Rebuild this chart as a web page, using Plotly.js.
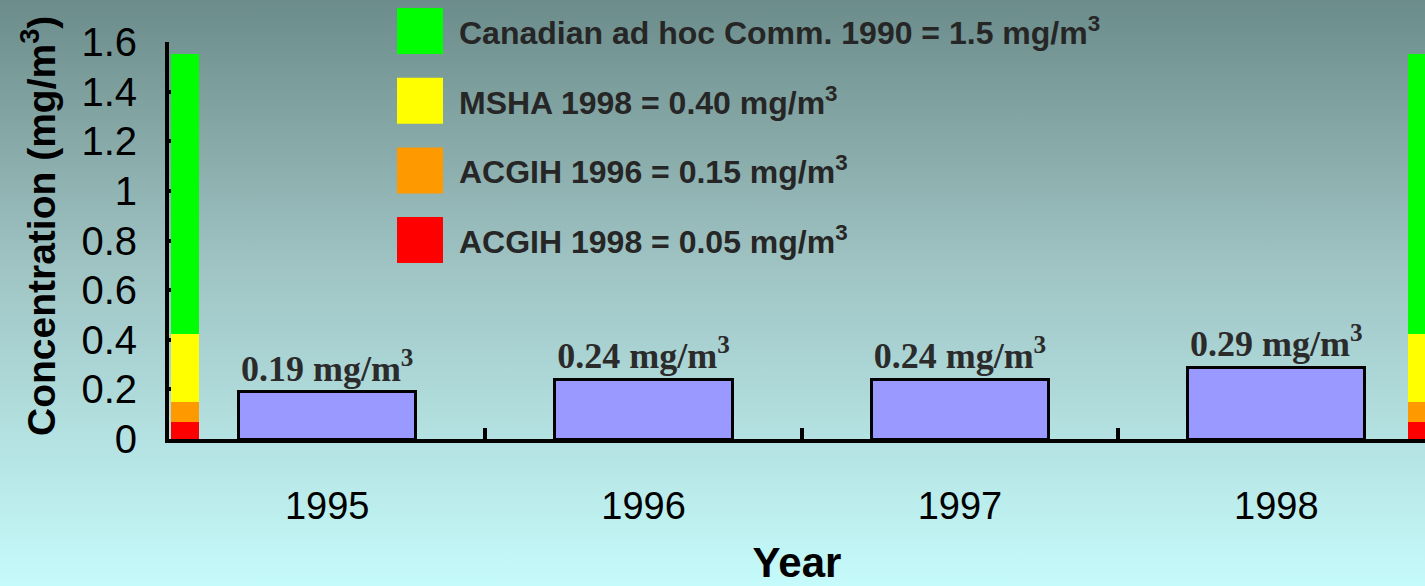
<!DOCTYPE html>
<html>
<head>
<meta charset="utf-8">
<script src="https://cdn.plot.ly/plotly-3.0.1.min.js"></script>
<style>
  html, body { margin: 0; padding: 0; }
  #chart {
    width: 1425px; height: 586px;
    background: linear-gradient(to bottom, #6b8c8a 0%, #9fc3c3 45%, #c6fbfb 100%);
  }
</style>
</head>
<body>
<div id="chart"></div>
<script>
// ---- data ----
const years = [1995, 1996, 1997, 1998];
const yearLabels = ["1995", "1996", "1997", "1998"];
const concentrations = [0.19, 0.24, 0.24, 0.29];
const concentrationLabels = ["0.19 mg/m<sup>3</sup>", "0.24 mg/m<sup>3</sup>", "0.24 mg/m<sup>3</sup>", "0.29 mg/m<sup>3</sup>"];

// threshold scale bars (drawn at both edges), cumulative tops
const thresholdNames = ["ACGIH 1998", "ACGIH 1996", "MSHA 1998", "Canadian ad hoc Comm. 1990"];
const thresholdTops = [0.07, 0.15, 0.425, 1.55];
const thresholdColors = ["#ff0000", "#ff9900", "#ffff00", "#00ff00"];
const legendLabels = [
  "ACGIH 1998 = 0.05 mg/m<sup>3</sup>",
  "ACGIH 1996 = 0.15 mg/m<sup>3</sup>",
  "MSHA 1998 = 0.40 mg/m<sup>3</sup>",
  "Canadian ad hoc Comm. 1990 = 1.5 mg/m<sup>3</sup>"
];
const scaleBarPositions = [1994.551, 1998.459];
const yTicks = [0, 0.2, 0.4, 0.6, 0.8, 1, 1.2, 1.4, 1.6];
const minorTicks = [1995.5, 1996.5, 1997.5];
const yTitle = "Concentration (mg/m<sup>3</sup>)";
const xTitle = "Year";

// ---- layout helpers ----
const W = 1425, H = 586;
const M = {l: 169, r: 0, t: 42, b: 147};
const plotW = W - M.l - M.r, plotH = H - M.t - M.b;
const px2paperX = px => (px - M.l) / plotW;
const px2paperY = py => (H - M.b - py) / plotH;

const traces = [];
thresholdNames.forEach((name, i) => {
  const seg = thresholdTops[i] - (i > 0 ? thresholdTops[i - 1] : 0);
  traces.push({
    type: 'bar',
    name: name,
    x: scaleBarPositions,
    y: scaleBarPositions.map(() => seg),
    width: 0.088,
    marker: {color: thresholdColors[i], line: {width: 0}},
    hoverinfo: 'skip',
    showlegend: false
  });
});
traces.push({
  type: 'bar',
  name: 'Concentration',
  x: years,
  y: concentrations,
  width: 0.56,
  text: concentrationLabels,
  textposition: 'outside',
  textfont: {family: 'Liberation Serif, Times New Roman, serif', size: 36, color: '#2b2b2b', weight: 'bold'},
  marker: {color: '#9999ff', line: {color: '#000000', width: 3}},
  showlegend: false
});

// legend: squares + labels (top to bottom: green, yellow, orange, red)
const shapes = [];
const annotations = [];
const legendTop = 8, legendStep = 69.7, sq = 46;
for (let k = 0; k < 4; k++) {
  const i = 3 - k;
  const top = legendTop + k * legendStep;
  shapes.push({
    type: 'rect', xref: 'paper', yref: 'paper',
    x0: px2paperX(397), x1: px2paperX(397 + sq),
    y0: px2paperY(top + sq), y1: px2paperY(top),
    fillcolor: thresholdColors[i], line: {width: 0}
  });
  annotations.push({
    xref: 'paper', yref: 'paper',
    x: px2paperX(457), y: px2paperY(top + sq / 2),
    xanchor: 'left', yanchor: 'middle',
    text: legendLabels[i], showarrow: false,
    font: {family: 'Liberation Sans, Arial, sans-serif', size: 32, color: '#262626', weight: 'bold'}
  });
}
// y-axis title
annotations.push({
  xref: 'paper', yref: 'paper',
  x: px2paperX(38), y: px2paperY(226),
  xanchor: 'center', yanchor: 'middle',
  textangle: -90, showarrow: false,
  text: yTitle,
  font: {family: 'Liberation Sans, Arial, sans-serif', size: 39, color: '#000', weight: 'bold'}
});

const layout = {
  width: W, height: H,
  margin: M,
  paper_bgcolor: 'rgba(0,0,0,0)',
  plot_bgcolor: 'rgba(0,0,0,0)',
  barmode: 'stack',
  showlegend: false,
  font: {family: 'Liberation Sans, Arial, sans-serif', color: '#000'},
  xaxis: {
    range: [1994.5, 1998.47],
    tickmode: 'array', tickvals: years, ticktext: yearLabels,
    ticks: '', showgrid: false, zeroline: false,
    showline: true, linecolor: '#000', linewidth: 4,
    layer: 'above traces',
    tickfont: {size: 38, color: '#000'},
    ticklabelstandoff: 30,
    minor: {tickmode: 'array', tickvals: minorTicks, ticks: 'inside', ticklen: 11, tickwidth: 4, tickcolor: '#000', showgrid: false},
    title: {text: xTitle, font: {size: 42, color: '#000', weight: 'bold'}, standoff: 44},
    fixedrange: true
  },
  yaxis: {
    range: [0, 1.6],
    tickmode: 'array', tickvals: yTicks,
    ticks: 'inside', ticklen: 14, tickwidth: 4, tickcolor: '#000',
    showgrid: false, zeroline: false,
    showline: true, linecolor: '#000', linewidth: 4,
    layer: 'below traces',
    tickfont: {size: 40, color: '#000'},
    ticklabelstandoff: 20,
    fixedrange: true
  },
  shapes: shapes,
  annotations: annotations
};

Plotly.newPlot('chart', traces, layout, {displayModeBar: false, staticPlot: true});
</script>
</body>
</html>
